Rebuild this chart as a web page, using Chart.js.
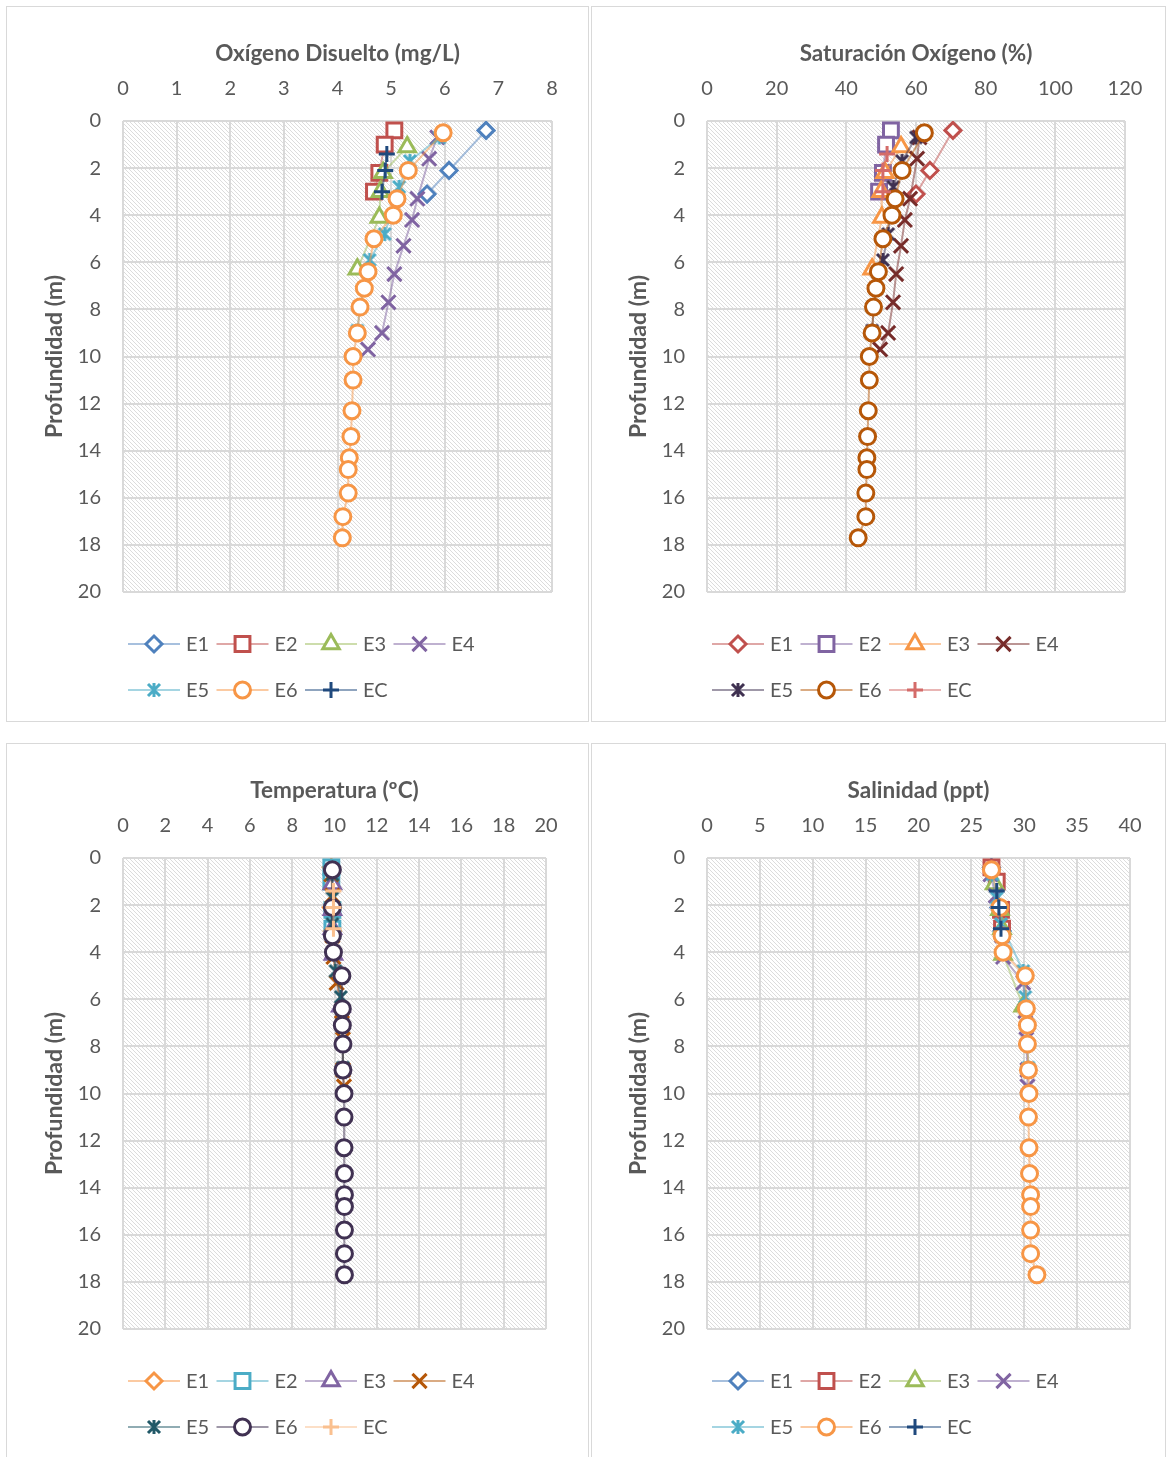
<!DOCTYPE html>
<html>
<head>
<meta charset="utf-8">
<script src="https://cdn.jsdelivr.net/npm/chart.js@4.4.1/dist/chart.umd.min.js"></script>
<style>
  body { margin: 0; background: #fff; width: 1166px; height: 1457px; overflow: hidden; position: relative; }
  .panel { position: absolute; border: 1px solid #d9d9d9; overflow: hidden; }
  .panel canvas { position: absolute; left: 0; top: 0; }
</style>
</head>
<body>
<div class="panel" style="left:6px;top:6px;width:581px;height:714px"><canvas id="c1" width="581" height="714"></canvas></div>
<div class="panel" style="left:591px;top:6px;width:573px;height:714px"><canvas id="c2" width="573" height="714"></canvas></div>
<div class="panel" style="left:6px;top:743px;width:581px;height:714px"><canvas id="c3" width="581" height="714"></canvas></div>
<div class="panel" style="left:591px;top:743px;width:573px;height:714px"><canvas id="c4" width="573" height="714"></canvas></div>
<script>
// estaciones y profundidades (m)
const stations = ['E1', 'E2', 'E3', 'E4', 'E5', 'E6', 'EC'];
const depthE1 = [0.4, 2.1, 3.1];
const depthE2 = [0.4, 1.0, 2.2, 3.0];
const depthE3 = [1.1, 2.2, 3.0, 4.1, 6.3];
const depthE4 = [0.7, 1.6, 3.3, 4.2, 5.3, 6.5, 7.7, 9.0, 9.7];
const depthE5 = [0.7, 1.7, 2.8, 4.8, 5.9, 7.1, 7.9, 8.9];
const depthE6 = [0.5, 2.1, 3.3, 4.0, 5.0, 6.4, 7.1, 7.9, 9.0, 10.0, 11.0, 12.3, 13.4, 14.3, 14.8, 15.8, 16.8, 17.7];
const depthEC = [1.4, 2.1, 3.0];

// Oxígeno disuelto (mg/L)
const oxE1 = [6.77, 6.08, 5.67];
const oxE2 = [5.06, 4.88, 4.78, 4.68];
const oxE3 = [5.30, 4.85, 4.80, 4.78, 4.37];
const oxE4 = [5.86, 5.71, 5.49, 5.39, 5.23, 5.06, 4.95, 4.83, 4.57];
const oxE5 = [5.90, 5.35, 5.15, 4.88, 4.60, 4.50, 4.42, 4.37];
const oxE6 = [5.97, 5.32, 5.11, 5.04, 4.68, 4.57, 4.50, 4.42, 4.37, 4.29, 4.29, 4.27, 4.25, 4.22, 4.20, 4.20, 4.10, 4.09];
const oxEC = [4.92, 4.89, 4.83];

// Saturación oxígeno (%)
const satE1 = [70.6, 64.0, 60.0];
const satE2 = [52.8, 51.4, 50.5, 49.4];
const satE3 = [55.7, 51.1, 50.0, 50.2, 47.4];
const satE4 = [61.0, 60.3, 58.3, 56.8, 55.7, 54.3, 53.4, 52.0, 49.7];
const satE5 = [60.0, 56.0, 53.5, 52.0, 50.5, 48.6, 47.9, 47.4];
const satE6 = [62.4, 56.0, 54.0, 53.1, 50.5, 49.2, 48.5, 47.8, 47.4, 46.6, 46.6, 46.3, 46.1, 45.9, 45.9, 45.6, 45.6, 43.4];
const satEC = [51.7, 50.5, 50.5];

// Temperatura (ºC)
const tempE1 = [9.85, 9.85, 9.9];
const tempE2 = [9.85, 9.85, 9.9, 9.9];
const tempE3 = [9.9, 9.9, 9.9, 9.95, 10.3];
const tempE4 = [9.85, 9.9, 9.9, 9.95, 10.1, 10.35, 10.4, 10.4, 10.45];
const tempE5 = [9.9, 9.9, 9.9, 10.05, 10.3, 10.35, 10.4, 10.4];
const tempE6 = [9.9, 9.9, 9.9, 9.95, 10.35, 10.37, 10.37, 10.4, 10.4, 10.45, 10.45, 10.45, 10.47, 10.47, 10.47, 10.47, 10.47, 10.47];
const tempEC = [9.95, 9.95, 9.95];

// Salinidad (ppt)
const salE1 = [26.9, 27.6, 27.9];
const salE2 = [26.9, 27.4, 27.8, 27.9];
const salE3 = [27.2, 27.7, 27.9, 28.0, 29.9];
const salE4 = [26.8, 27.3, 27.9, 28.0, 29.9, 30.1, 30.2, 30.3, 30.3];
const salE5 = [27.0, 27.4, 27.8, 29.9, 30.1, 30.3, 30.3, 30.4];
const salE6 = [26.9, 27.7, 27.9, 28.0, 30.1, 30.2, 30.3, 30.3, 30.4, 30.45, 30.4, 30.45, 30.5, 30.6, 30.6, 30.6, 30.6, 31.2];
const salEC = [27.4, 27.6, 27.8];

const depthTicks = [0, 2, 4, 6, 8, 10, 12, 14, 16, 18, 20];

const depths = [depthE1, depthE2, depthE3, depthE4, depthE5, depthE6, depthEC];
const markers = ['rectRot', 'rect', 'triangle', 'crossRot', 'asterisco', 'circle', 'cross'];
const radii = [8, 10.5, 9.5, 10, 8.5, 8, 8];

const TXT = '#595959';
const FONT = 'Lato';
const TICK_SIZE = 20;
const TITLE_SIZE = 22.5;
const YTITLE_SIZE = 23;

function hexA(hex, a) {
  const n = parseInt(hex.slice(1), 16);
  return `rgba(${n >> 16},${(n >> 8) & 255},${n & 255},${a})`;
}

// marcador asterisco de Excel (X con barra vertical)
function asterisco(color) {
  const c = document.createElement('canvas');
  c.width = 20; c.height = 20;
  const g = c.getContext('2d');
  g.strokeStyle = color;
  g.lineWidth = 3;
  g.beginPath();
  g.moveTo(4, 4); g.lineTo(16, 16);
  g.moveTo(16, 4); g.lineTo(4, 16);
  g.moveTo(10, 3); g.lineTo(10, 17);
  g.stroke();
  return c;
}

const hatch = (() => {
  const c = document.createElement('canvas');
  c.width = 4; c.height = 4;
  const g = c.getContext('2d');
  g.fillStyle = '#fff'; g.fillRect(0, 0, 4, 4);
  g.fillStyle = '#dcdcdc';
  for (let i = 0; i < 4; i++) g.fillRect(i, i, 1, 1);
  return c;
})();

const fondo = {
  id: 'fondo',
  beforeDraw(chart) {
    const {ctx, chartArea: a} = chart;
    ctx.save();
    ctx.fillStyle = '#fff';
    ctx.fillRect(0, 0, chart.width, chart.height);
    ctx.fillStyle = ctx.createPattern(hatch, 'repeat');
    ctx.fillRect(a.left, a.top, a.right - a.left, a.bottom - a.top);
    ctx.restore();
  }
};

// leyenda estilo Excel: línea con marcador, dos filas
const leyenda = {
  id: 'leyenda',
  afterDraw(chart, args, opts) {
    const ctx = chart.ctx;
    const left = chart.chartArea.left + 5;
    ctx.save();
    chart.data.datasets.forEach((ds, i) => {
      const row = i < 4 ? 0 : 1;
      const col = i < 4 ? i : i - 4;
      const x = left + col * 88.5;
      const y = opts.rows[row];
      ctx.strokeStyle = ds.borderColor;
      ctx.lineWidth = 2;
      ctx.beginPath();
      ctx.moveTo(x, y); ctx.lineTo(x + 52, y);
      ctx.stroke();
      ctx.strokeStyle = ds.pointBorderColor;
      ctx.fillStyle = '#fff';
      ctx.lineWidth = 3;
      Chart.helpers.drawPoint(ctx, {pointStyle: ds.pointStyle, radius: ds.pointRadius, borderWidth: 3, rotation: 0}, x + 26, y);
      ctx.fillStyle = TXT;
      ctx.font = `${TICK_SIZE}px ${FONT}`;
      ctx.textBaseline = 'middle';
      ctx.textAlign = 'left';
      ctx.fillText(ds.label, x + 58, y + 1);
    });
    ctx.restore();
  }
};

function makeChart(o) {
  const cv = document.getElementById(o.id);
  const cw = cv.width, ch = cv.height;
  const L = o.area.l - o.ox, T = o.area.t - o.oy, R = o.area.r - o.ox, B = o.area.b - o.oy;
  const datasets = stations.map((s, i) => ({
    label: s,
    data: depths[i].map((d, j) => ({x: o.values[i][j], y: d})),
    showLine: true,
    borderColor: hexA(o.colors[i], 0.5),
    borderWidth: 2,
    pointStyle: markers[i] === 'asterisco' ? asterisco(o.colors[i]) : markers[i],
    pointRadius: radii[i],
    pointBorderColor: o.colors[i],
    pointBackgroundColor: '#fff',
    pointBorderWidth: 3,
    order: stations.length - i
  }));
  const tickFont = {family: FONT, size: TICK_SIZE};
  return new Chart(cv, {
    type: 'scatter',
    data: {datasets},
    plugins: [fondo, leyenda],
    options: {
      responsive: false,
      animation: false,
      events: [],
      layout: {padding: {left: 0, top: 0, right: cw - R, bottom: ch - B}},
      scales: {
        x: {
          type: 'linear', position: 'top', min: 0, max: o.xMax,
          ticks: {stepSize: o.xStep, color: TXT, font: tickFont, padding: 20},
          grid: {color: '#d9d9d9', lineWidth: 2, drawTicks: false},
          border: {display: false},
          title: {display: true, text: o.title, color: TXT, font: {family: FONT, size: TITLE_SIZE, weight: 'bold'},
            padding: {top: o.titleY - o.oy - TITLE_SIZE * 0.6, bottom: 0}},
          afterFit: s => { s.height = T; }
        },
        y: {
          type: 'linear', position: 'left', reverse: true, min: 0, max: 20,
          afterBuildTicks: s => { s.ticks = depthTicks.map(v => ({value: v})); },
          ticks: {color: TXT, font: tickFont, padding: 22},
          grid: {color: '#d9d9d9', lineWidth: 2, drawTicks: false},
          border: {display: false},
          title: {display: true, text: 'Profundidad (m)', color: TXT, font: {family: FONT, size: YTITLE_SIZE, weight: 'bold'},
            padding: {top: o.yTitleX - o.ox - YTITLE_SIZE * 0.6, bottom: 0}},
          afterFit: s => { s.width = L; }
        }
      },
      plugins: {
        legend: {display: false},
        tooltip: {enabled: false},
        leyenda: {rows: [o.legendY[0] - o.oy, o.legendY[1] - o.oy]}
      }
    }
  });
}

makeChart({
  id: 'c1', ox: 7, oy: 7, area: {l: 123, t: 121, r: 552, b: 592},
  title: 'Oxígeno Disuelto (mg/L)', titleY: 54, yTitleX: 55, xMax: 8, xStep: 1,
  values: [oxE1, oxE2, oxE3, oxE4, oxE5, oxE6, oxEC],
  colors: ['#4f81bd', '#c0504d', '#9bbb59', '#8064a2', '#4bacc6', '#f79646', '#1f497d'],
  legendY: [644, 690]
});
makeChart({
  id: 'c2', ox: 592, oy: 7, area: {l: 707, t: 121, r: 1125, b: 592},
  title: 'Saturación Oxígeno (%)', titleY: 54, yTitleX: 639, xMax: 120, xStep: 20,
  values: [satE1, satE2, satE3, satE4, satE5, satE6, satEC],
  colors: ['#c0504d', '#8064a2', '#f79646', '#772c2a', '#3f3151', '#b65708', '#d46b69'],
  legendY: [644, 690]
});
makeChart({
  id: 'c3', ox: 7, oy: 744, area: {l: 123, t: 858, r: 546, b: 1329},
  title: 'Temperatura (ºC)', titleY: 791, yTitleX: 55, xMax: 20, xStep: 2,
  values: [tempE1, tempE2, tempE3, tempE4, tempE5, tempE6, tempEC],
  colors: ['#f79646', '#4bacc6', '#8064a2', '#b65708', '#215968', '#403152', '#fac08f'],
  legendY: [1381, 1427]
});
makeChart({
  id: 'c4', ox: 592, oy: 744, area: {l: 707, t: 858, r: 1130, b: 1329},
  title: 'Salinidad (ppt)', titleY: 791, yTitleX: 639, xMax: 40, xStep: 5,
  values: [salE1, salE2, salE3, salE4, salE5, salE6, salEC],
  colors: ['#4f81bd', '#c0504d', '#9bbb59', '#8064a2', '#4bacc6', '#f79646', '#1f497d'],
  legendY: [1381, 1427]
});
</script>
</body>
</html>
